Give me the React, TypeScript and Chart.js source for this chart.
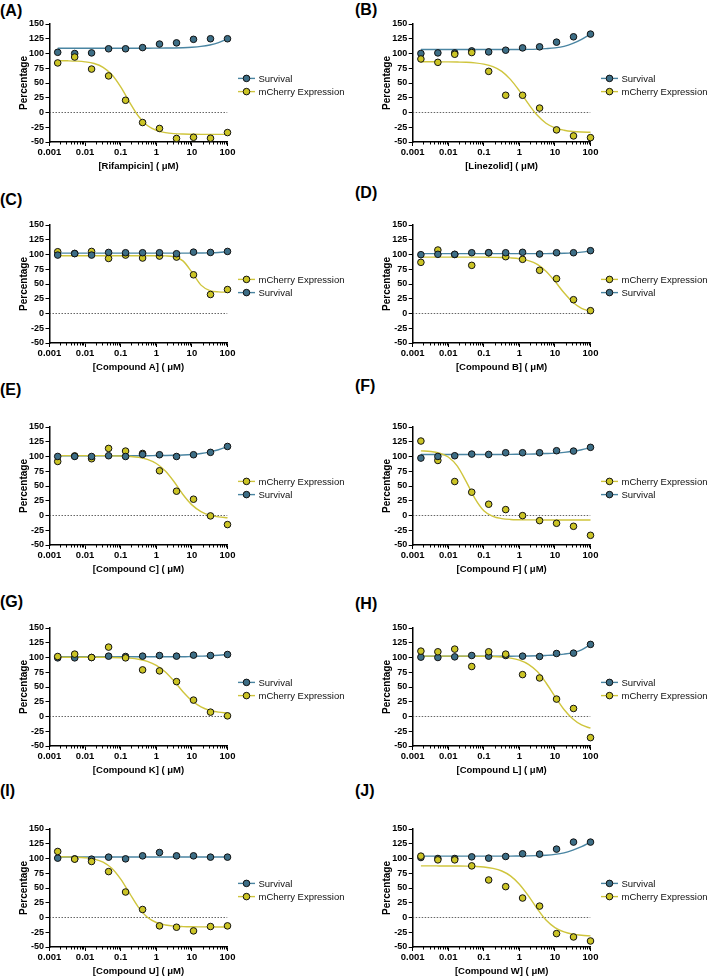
import React, { useEffect, useRef } from 'react';
import { Chart, registerables } from 'chart.js';
Chart.register(...registerables);

const FONT = "'Liberation Sans', Arial, Helvetica, sans-serif";

// ---- shared axes / x values ----
const DOSES = [0.0017, 0.0051, 0.0152, 0.0457, 0.137, 0.412, 1.23, 3.7, 11.1, 33.3, 100];
const CURVE_X = [0.0017, 0.0032, 0.0056, 0.01, 0.018, 0.032, 0.056, 0.1, 0.18, 0.32, 0.56, 1, 1.8, 3.2, 5.6, 10, 18, 32, 56, 100];
const X_TICKS = [0.001, 0.01, 0.1, 1, 10, 100];
const X_TICK_LABELS = ['0.001', '0.01', '0.1', '1', '10', '100'];
const X_MINOR_TICKS = [
  0.002, 0.003, 0.004, 0.005, 0.006, 0.007, 0.008, 0.009,
  0.02, 0.03, 0.04, 0.05, 0.06, 0.07, 0.08, 0.09,
  0.2, 0.3, 0.4, 0.5, 0.6, 0.7, 0.8, 0.9,
  2, 3, 4, 5, 6, 7, 8, 9,
  20, 30, 40, 50, 60, 70, 80, 90,
];
const Y_TICKS = [-50, -25, 0, 25, 50, 75, 100, 125, 150];
const ZERO_X = [0.001, 100];
const ZERO_Y = [0, 0];

// ---- (A) Rifampicin ----
const A_SURV = [102, 100, 101, 108, 108, 110, 116, 118, 124, 125, 125];
const A_MCH = [84, 94, 73.6, 62, 20.7, -17, -27, -44, -42, -43.6, -34];
const A_SURV_FIT = [109, 109, 109, 109, 109, 109, 109, 109, 109, 109, 109, 109.1, 109.2, 109.4, 109.8, 110.6, 112, 114.5, 118.5, 125];
const A_MCH_FIT = [87.9, 87.6, 87.1, 85.9, 83, 76.6, 64.3, 43.4, 16.9, -6.8, -22.1, -30.2, -34.1, -35.8, -36.5, -36.8, -37, -37, -37, -37];

// ---- (B) Linezolid ----
const B_SURV = [100, 101, 101, 104.4, 102.7, 105.6, 109.5, 111.3, 119.2, 128.3, 132.9];
const B_MCH = [90.7, 85, 98.7, 101.6, 69.7, 29.2, 29.2, 7.5, -29.5, -39.7, -42.6];
const B_SURV_FIT = [106.7, 106.7, 106.7, 106.7, 106.7, 106.7, 106.7, 106.7, 106.7, 106.7, 106.7, 106.8, 107, 107.5, 108.3, 109.5, 112, 117, 124, 133];
const B_MCH_FIT = [86, 86, 85.9, 85.8, 85.5, 85.1, 84.1, 81.9, 77.7, 69.8, 56.1, 36.7, 14.5, -4.8, -18.2, -26, -30, -32.1, -33.1, -33.6];

// ---- (C) Compound A ----
const C_SURV = [99, 101.5, 99, 103.5, 103, 103, 103, 101.3, 104, 103.5, 105.2];
const C_MCH = [104.7, 101.8, 105.2, 93.3, 99, 94, 97.3, 95.6, 65.6, 32.2, 40.6];
const C_SURV_FIT = [102.3, 102.3, 102.3, 102.3, 102.3, 102.3, 102.3, 102.3, 102.3, 102.3, 102.3, 102.3, 102.3, 102.3, 102.3, 102.3, 102.5, 102.8, 103.4, 104.5];
const C_MCH_FIT = [98, 98, 98, 98, 98, 98, 98, 98, 98, 98, 98, 97.9, 97.6, 96, 89.2, 70, 48.1, 38.9, 36.6, 36.1];

// ---- (D) Compound B ----
const D_SURV = [99.7, 100.3, 100.3, 103, 103, 103, 103.7, 100.8, 103, 103, 106.5];
const D_MCH = [86.7, 107.6, 100, 81.6, 103, 96.3, 91.8, 73.2, 59, 23.4, 4.8];
const D_SURV_FIT = [101.5, 101.5, 101.5, 101.5, 101.5, 101.5, 101.5, 101.5, 101.5, 101.5, 101.5, 101.5, 101.5, 101.5, 101.5, 101.7, 102, 102.7, 104, 106];
const D_MCH_FIT = [95.5, 95.5, 95.5, 95.5, 95.5, 95.5, 95.5, 95.5, 95.2, 94.9, 94.2, 92.8, 89.6, 83.2, 71.7, 54.6, 35.1, 19.1, 8.7, 4];

// ---- (E) Compound C ----
const E_SURV = [100.1, 100.1, 100, 101.3, 100, 103.5, 103, 100, 103, 107, 117];
const E_MCH = [91.6, 101, 96.2, 113.7, 109.2, 105.2, 75.8, 41.2, 27.6, -0.7, -15.4];
const E_SURV_FIT = [101.3, 101.3, 101.3, 101.3, 101.3, 101.3, 101.3, 101.3, 101.3, 101.3, 101.3, 101.6, 101.8, 102.1, 102.6, 103.5, 105, 107.8, 111.5, 117];
const E_MCH_FIT = [101.4, 101.4, 101.4, 101.4, 101.4, 101.4, 101.2, 100.9, 100.1, 98.5, 95, 88.1, 75.5, 56.8, 35.6, 18, 6.7, 0.5, -2.4, -3.8];

// ---- (F) Compound F ----
const F_SURV = [97.3, 100.1, 101.3, 104.1, 103.5, 106.4, 106.4, 106.4, 109.8, 109.2, 115.5];
const F_MCH = [126.2, 93.3, 57.6, 39.5, 19.1, 10, -0.2, -8.7, -13.2, -18.3, -33.6];
const F_SURV_FIT = [103.3, 103.3, 103.3, 103.3, 103.3, 103.3, 103.3, 103.3, 103.4, 103.5, 103.6, 103.8, 104, 104.5, 105, 105.7, 107, 108.8, 111.5, 115];
const F_MCH_FIT = [109.5, 108.5, 105.8, 99.1, 83.7, 57.4, 29.2, 8.2, -1.4, -5.2, -6.7, -7.2, -7.4, -7.5, -7.5, -7.5, -7.5, -7.5, -7.5, -7.5];

// ---- (G) Compound K ----
const G_SURV = [99.4, 99.4, 100, 102.3, 101.7, 102.3, 103.4, 102.3, 104, 103.4, 105.1];
const G_MCH = [101.7, 105.7, 100, 117.6, 99.4, 79, 77.3, 59.1, 27.8, 7.4, 1.1];
const G_SURV_FIT = [101.2, 101.2, 101.2, 101.2, 101.2, 101.2, 101.2, 101.2, 101.2, 101.2, 101.2, 101.2, 101.2, 101.2, 101.2, 101.8, 102.3, 102.9, 103.8, 105];
const G_MCH_FIT = [100.5, 100.5, 100.5, 100.4, 100.4, 100.3, 100.1, 99.7, 98.9, 97.1, 93.5, 86.8, 75.5, 59.6, 42, 26.8, 16.5, 10.5, 7.5, 5.9];

// ---- (H) Compound L ----
const H_SURV = [100.6, 100, 101.1, 103.4, 102.3, 103.4, 102.3, 101.7, 106.8, 107.4, 122.2];
const H_MCH = [110.8, 109.7, 114.2, 84.7, 109.7, 105.7, 71, 65.3, 29.5, 13.6, -35.8];
const H_SURV_FIT = [102.2, 102.2, 102.2, 102.2, 102.2, 102.2, 102.2, 102.2, 102.2, 102.2, 102.2, 102.4, 102.6, 103, 103.5, 104.3, 105.8, 108.3, 113, 122];
const H_MCH_FIT = [102.4, 102.4, 102.4, 102.4, 102.4, 102.4, 102.4, 102.1, 101.7, 100.8, 99, 95.5, 88.5, 76.2, 57.2, 34, 11.8, -4.3, -14.3, -19.8];

// ---- (I) Compound U ----
const I_SURV = [100.6, 99.4, 98.9, 102.3, 99.4, 104.5, 110.2, 104.5, 104.5, 102.3, 102.3];
const I_MCH = [111.9, 98.9, 94.9, 77.8, 43.2, 13.6, -14.2, -16.5, -22.7, -15.3, -14.2];
const I_SURV_FIT = [102.5, 102.5, 102.5, 102.5, 102.5, 102.5, 102.5, 102.5, 102.5, 102.5, 102.5, 102.5, 102.5, 102.5, 102.5, 102.5, 102.5, 102.5, 102.5, 102.5];
const I_MCH_FIT = [102.9, 102.7, 102.2, 101.2, 99, 93.8, 83.4, 65, 40.4, 16.7, 0.4, -8.5, -12.7, -14.6, -15.4, -15.8, -15.9, -16, -16, -16];

// ---- (J) Compound W ----
const J_SURV = [101.7, 100, 100, 102.8, 100.6, 103.4, 108, 107.4, 115.9, 127.8, 127.8];
const J_MCH = [104, 97.7, 97.7, 87.5, 63.6, 52.3, 33, 19.3, -27.3, -33, -39.8];
const J_SURV_FIT = [104, 104, 104, 104, 104, 104, 104, 104, 104, 104, 104, 104.2, 104.4, 104.8, 105.6, 107, 109.6, 114.3, 120, 128];
const J_MCH_FIT = [87.5, 87.5, 87.4, 87.3, 87.2, 87, 86.5, 85.5, 83.2, 78.8, 70.5, 56.4, 36.6, 14.6, -4.3, -17.1, -24.5, -28.3, -30.2, -31.2];

const PANELS = [
  { label: '(A)', title: '[Rifampicin] ( \u03bcM)', surv: A_SURV, mch: A_MCH, survFit: A_SURV_FIT, mchFit: A_MCH_FIT, survFirst: true },
  { label: '(B)', title: '[Linezolid] ( \u03bcM)', surv: B_SURV, mch: B_MCH, survFit: B_SURV_FIT, mchFit: B_MCH_FIT, survFirst: true },
  { label: '(C)', title: '[Compound A] ( \u03bcM)', surv: C_SURV, mch: C_MCH, survFit: C_SURV_FIT, mchFit: C_MCH_FIT, survFirst: false },
  { label: '(D)', title: '[Compound B] ( \u03bcM)', surv: D_SURV, mch: D_MCH, survFit: D_SURV_FIT, mchFit: D_MCH_FIT, survFirst: false },
  { label: '(E)', title: '[Compound C] ( \u03bcM)', surv: E_SURV, mch: E_MCH, survFit: E_SURV_FIT, mchFit: E_MCH_FIT, survFirst: false },
  { label: '(F)', title: '[Compound F] ( \u03bcM)', surv: F_SURV, mch: F_MCH, survFit: F_SURV_FIT, mchFit: F_MCH_FIT, survFirst: false },
  { label: '(G)', title: '[Compound K] ( \u03bcM)', surv: G_SURV, mch: G_MCH, survFit: G_SURV_FIT, mchFit: G_MCH_FIT, survFirst: true },
  { label: '(H)', title: '[Compound L] ( \u03bcM)', surv: H_SURV, mch: H_MCH, survFit: H_SURV_FIT, mchFit: H_MCH_FIT, survFirst: true },
  { label: '(I)', title: '[Compound U] ( \u03bcM)', surv: I_SURV, mch: I_MCH, survFit: I_SURV_FIT, mchFit: I_MCH_FIT, survFirst: true },
  { label: '(J)', title: '[Compound W] ( \u03bcM)', surv: J_SURV, mch: J_MCH, survFit: J_SURV_FIT, mchFit: J_MCH_FIT, survFirst: true },
];

// ---- layout / style ----
const PLOT_TOPS = [24, 225, 427, 628, 829];
const PLOT_H = 118;
const TOP_PAD = 10;
const X_AXIS_H = 29;
const CANVAS_W = 354;
const COL_LEFT = [0, 355];
const CHART_LEFT = [49.5, 57.7];
const CHART_RIGHT = [227.5, 235.5];
const LABEL_CENTER_Y = [11, 10, 199.5, 193, 390, 386, 602, 604, 791, 791];

const SURV_FILL = '#3d6e86';
const SURV_LINE = '#4a85a2';
const MCH_FILL = '#cbc425';
const MCH_LINE = '#cfc53d';

function Panel({ cfg, index }: { cfg: any; index: number }) {
  const ref = useRef<HTMLCanvasElement | null>(null);
  const col = index % 2;
  const row = Math.floor(index / 2);
  const canvasH = TOP_PAD + PLOT_H + X_AXIS_H;

  useEffect(() => {
    const canvas = ref.current;
    if (!canvas) return;
    const chartLeft = CHART_LEFT[col];
    const chartRight = CHART_RIGHT[col];

    const pts = (ys: number[]) => DOSES.map((x, i) => ({ x, y: ys[i] }));
    const fit = (ys: number[]) => CURVE_X.map((x, i) => ({ x, y: ys[i] }));

    const pointDs = (label: string, ys: number[], fill: string) => ({
      label,
      data: pts(ys),
      showLine: false,
      pointRadius: 3.3,
      pointBackgroundColor: fill,
      pointBorderColor: '#111',
      pointBorderWidth: 1,
      clip: false,
    });
    const fitDs = (label: string, ys: number[], color: string) => ({
      label,
      data: fit(ys),
      showLine: true,
      pointRadius: 0,
      borderColor: color,
      borderWidth: 1.4,
      cubicInterpolationMode: 'monotone',
      fill: false,
      clip: false,
    });

    const survPts = pointDs('Survival', cfg.surv, SURV_FILL);
    const mchPts = pointDs('mCherry Expression', cfg.mch, MCH_FILL);
    const datasets: any[] = [];
    // index 0 is drawn on top: later legend entry on top
    if (cfg.survFirst) datasets.push(mchPts, survPts);
    else datasets.push(survPts, mchPts);
    datasets.push(fitDs('mch fit', cfg.mchFit, MCH_LINE));
    datasets.push(fitDs('surv fit', cfg.survFit, SURV_LINE));
    datasets.push({
      label: 'zero',
      data: ZERO_X.map((x, i) => ({ x, y: ZERO_Y[i] })),
      showLine: true,
      pointRadius: 0,
      borderColor: '#555',
      borderWidth: 0.9,
      borderDash: [1.5, 1.5],
      fill: false,
    });

    const legendItems = cfg.survFirst
      ? [
          { text: 'Survival', fill: SURV_FILL, line: SURV_LINE },
          { text: 'mCherry Expression', fill: MCH_FILL, line: MCH_LINE },
        ]
      : [
          { text: 'mCherry Expression', fill: MCH_FILL, line: MCH_LINE },
          { text: 'Survival', fill: SURV_FILL, line: SURV_LINE },
        ];

    const overlay = {
      id: 'overlay',
      afterDraw(chart: any) {
        const { ctx, chartArea, scales } = chart;
        const xs = scales.x;
        ctx.save();
        // minor ticks on the log axis
        ctx.strokeStyle = '#000';
        ctx.lineWidth = 1;
        for (const v of X_MINOR_TICKS) {
          const px = Math.round(xs.getPixelForValue(v)) + 0.5;
          ctx.beginPath();
          ctx.moveTo(px, chartArea.bottom);
          ctx.lineTo(px, chartArea.bottom + 2.5);
          ctx.stroke();
        }
        // legend
        const midY = (chartArea.top + chartArea.bottom) / 2 + 2;
        legendItems.forEach((it, i) => {
          const y = midY + (i === 0 ? -6.6 : 6.6);
          const x0 = chartArea.right + 10.5;
          ctx.strokeStyle = it.line;
          ctx.lineWidth = 1.4;
          ctx.beginPath();
          ctx.moveTo(x0, y);
          ctx.lineTo(x0 + 17, y);
          ctx.stroke();
          ctx.beginPath();
          ctx.arc(x0 + 8.5, y, 3.3, 0, Math.PI * 2);
          ctx.fillStyle = it.fill;
          ctx.fill();
          ctx.strokeStyle = '#111';
          ctx.lineWidth = 1;
          ctx.stroke();
          ctx.fillStyle = '#111';
          ctx.font = `9.5px ${FONT}`;
          ctx.textBaseline = 'middle';
          ctx.textAlign = 'left';
          ctx.fillText(it.text, x0 + 20.5, y + 0.5);
        });
        ctx.restore();
      },
    };

    const chart = new Chart(canvas, {
      type: 'line',
      data: { datasets },
      plugins: [overlay],
      options: {
        responsive: false,
        animation: false,
        events: [],
        layout: {
          padding: { left: 0, top: TOP_PAD, right: CANVAS_W - chartRight, bottom: 0 },
        },
        plugins: { legend: { display: false }, tooltip: { enabled: false }, title: { display: false } },
        scales: {
          x: {
            type: 'logarithmic',
            min: 0.001,
            max: 100,
            afterBuildTicks: (s: any) => {
              s.ticks = X_TICKS.map((v) => ({ value: v }));
            },
            afterFit: (s: any) => {
              s.height = X_AXIS_H;
            },
            ticks: {
              autoSkip: false,
              maxRotation: 0,
              minRotation: 0,
              padding: 1,
              color: '#000',
              font: { family: FONT, size: 9.5, weight: 'bold' },
              callback: (_v: any, i: number) => X_TICK_LABELS[i],
            },
            grid: { display: true, drawOnChartArea: false, drawTicks: true, tickLength: 4, color: '#000', lineWidth: 1 },
            border: { display: true, color: '#000', width: 1.5 },
            title: {
              display: true,
              text: cfg.title,
              color: '#000',
              font: { family: FONT, size: 9.5, weight: 'bold', lineHeight: 1 },
              padding: { top: 0, bottom: 0 },
            },
          },
          y: {
            type: 'linear',
            min: -50,
            max: 150,
            afterBuildTicks: (s: any) => {
              s.ticks = Y_TICKS.map((v) => ({ value: v }));
            },
            afterFit: (s: any) => {
              s.width = chartLeft;
            },
            ticks: {
              padding: 1.5,
              color: '#000',
              font: { family: FONT, size: 9, weight: 'bold' },
              callback: (v: any) => String(v),
            },
            grid: { display: true, drawOnChartArea: false, drawTicks: true, tickLength: 4, color: '#000', lineWidth: 1 },
            border: { display: true, color: '#000', width: 1.5 },
            title: {
              display: true,
              text: 'Percentage',
              color: '#000',
              font: { family: FONT, size: 10, weight: 'bold', lineHeight: 1 },
              padding: { top: chartLeft - 30, bottom: 0 },
            },
          },
        },
      } as any,
    });
    return () => chart.destroy();
  }, [cfg, index]);

  return (
    <>
      <div
        style={{
          position: 'absolute',
          left: COL_LEFT[col],
          top: LABEL_CENTER_Y[index] - 9,
          height: 18,
          lineHeight: '18px',
          fontFamily: FONT,
          fontWeight: 'bold',
          fontSize: 16,
          color: '#000',
          whiteSpace: 'nowrap',
        }}
      >
        {cfg.label}
      </div>
      <canvas
        ref={ref}
        width={CANVAS_W}
        height={canvasH}
        style={{
          position: 'absolute',
          left: COL_LEFT[col],
          top: PLOT_TOPS[row] - TOP_PAD,
          width: CANVAS_W,
          height: canvasH,
        }}
      />
    </>
  );
}

export default function App() {
  return (
    <div
      style={{
        position: 'fixed',
        left: 0,
        top: 0,
        width: 709,
        height: 976,
        overflow: 'hidden',
        background: '#fff',
      }}
    >
      {PANELS.map((p, i) => (
        <Panel key={p.label} cfg={p} index={i} />
      ))}
    </div>
  );
}
